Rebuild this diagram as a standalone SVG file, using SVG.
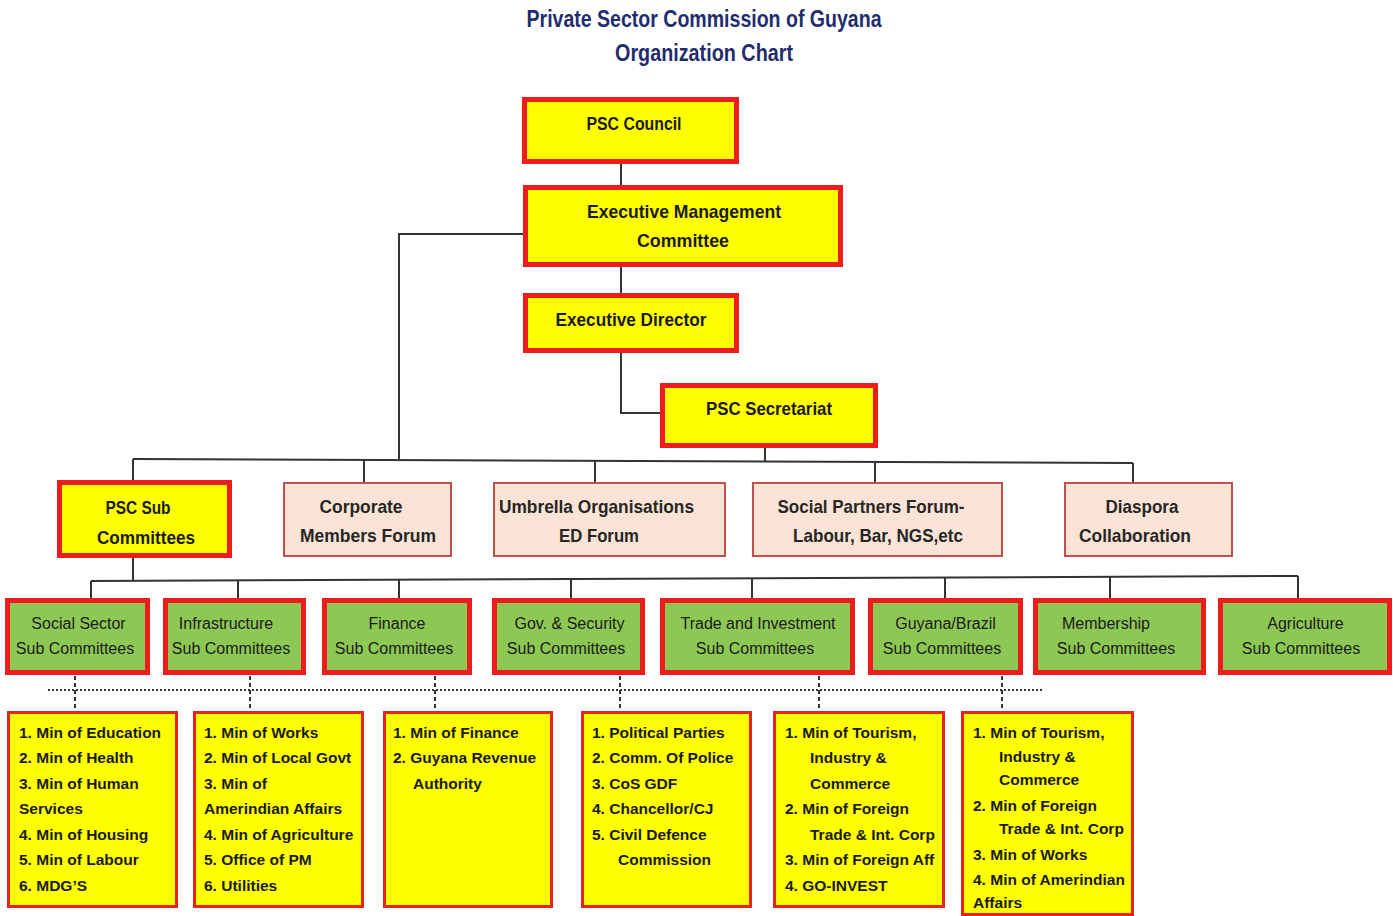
<svg xmlns="http://www.w3.org/2000/svg" width="1393" height="916" viewBox="0 0 1393 916">
<style>
text{font-family:"Liberation Sans",Arial,sans-serif;fill:#1a1a1a}
.title{font-size:23px;font-weight:bold;fill:#1f2d6e;text-anchor:middle}
.top rect{fill:#ffff00;stroke:#ee1c1c;stroke-width:5}
.top text{font-size:19px;font-weight:bold;text-anchor:middle}
.pink rect{fill:#fbe4d5;stroke:#c0504d;stroke-width:2}
.pink text{font-size:19px;font-weight:bold;text-anchor:middle;fill:#262626}
.green rect{fill:#8dc855;stroke:#ee1c1c;stroke-width:5}
.green text{font-size:16px;text-anchor:middle}
.list rect{fill:#ffff00;stroke:#e8231f;stroke-width:3}
.list text{font-size:15.5px;font-weight:bold}
.conn{fill:none;stroke:#333;stroke-width:2}
.dot{fill:none;stroke:#333;stroke-width:2;stroke-dasharray:2 2}
.dash{fill:none;stroke:#333;stroke-width:2;stroke-dasharray:4 3}
</style>
<rect width="1393" height="916" fill="#fff"/>
<g id="title">
<text class="title" x="704" y="27" textLength="355" lengthAdjust="spacingAndGlyphs">Private Sector Commission of Guyana</text>
<text class="title" x="704" y="61" textLength="178" lengthAdjust="spacingAndGlyphs">Organization Chart</text>
</g>
<g id="connectors">
<path class="conn" d="M621 164V186" stroke-width="3"/>
<path class="conn" d="M621 267V294"/>
<path class="conn" d="M621 353V413H662"/>
<path class="conn" d="M524 234H399V459"/>
<path class="conn" d="M765 448V461"/>
<path class="conn" d="M133 459L1133 463"/>
<path class="conn" d="M133 459V481M364 460V483M595 461V483M875 462V483M1133 463V483"/>
<path class="conn" d="M133 558V580"/>
<path class="conn" d="M91 581L1298 576"/>
<path class="conn" d="M91 581V599M238 580V599M399 580V599M571 579V599M752 578V599M945 577V599M1110 577V599M1298 576V599"/>
<path class="dot" d="M48 690H1042"/>
<path class="dash" d="M75 676V711M250 676V711M435 676V711M620 676V711M819 676V711M1002 676V711"/>
</g>
<g id="psc-council" class="top">
<rect x="524.5" y="99.5" width="212" height="62"/>
<text x="634" y="130" textLength="95" lengthAdjust="spacingAndGlyphs">PSC Council</text>
</g>
<g id="exec-mgmt" class="top">
<rect x="525.5" y="187.5" width="315" height="77"/>
<text x="684" y="218" textLength="194" lengthAdjust="spacingAndGlyphs">Executive Management</text>
<text x="683" y="247" textLength="92" lengthAdjust="spacingAndGlyphs">Committee</text>
</g>
<g id="exec-director" class="top">
<rect x="525.5" y="295.5" width="211" height="55"/>
<text x="631" y="326" textLength="151" lengthAdjust="spacingAndGlyphs">Executive Director</text>
</g>
<g id="psc-secretariat" class="top">
<rect x="662.5" y="385.5" width="213" height="60"/>
<text x="769" y="415" textLength="126" lengthAdjust="spacingAndGlyphs">PSC Secretariat</text>
</g>
<g id="psc-sub" class="top">
<rect x="59.5" y="482.5" width="170" height="73"/>
<text x="138" y="514" textLength="65" lengthAdjust="spacingAndGlyphs">PSC Sub</text>
<text x="146" y="544" textLength="98" lengthAdjust="spacingAndGlyphs">Committees</text>
</g>
<g id="corporate" class="pink">
<rect x="284" y="483" width="167" height="73"/>
<text x="361" y="513" textLength="83" lengthAdjust="spacingAndGlyphs">Corporate</text>
<text x="368" y="542" textLength="136" lengthAdjust="spacingAndGlyphs">Members Forum</text>
</g>
<g id="umbrella" class="pink">
<rect x="494" y="483" width="231" height="73"/>
<text x="596.5" y="513" textLength="195" lengthAdjust="spacingAndGlyphs">Umbrella Organisations</text>
<text x="599" y="542" textLength="80" lengthAdjust="spacingAndGlyphs">ED Forum</text>
</g>
<g id="social-partners" class="pink">
<rect x="753" y="483" width="249" height="73"/>
<text x="871" y="513" textLength="187" lengthAdjust="spacingAndGlyphs">Social Partners Forum-</text>
<text x="878" y="542" textLength="170" lengthAdjust="spacingAndGlyphs">Labour, Bar, NGS,etc</text>
</g>
<g id="diaspora" class="pink">
<rect x="1065" y="483" width="167" height="73"/>
<text x="1142" y="513" textLength="73" lengthAdjust="spacingAndGlyphs">Diaspora</text>
<text x="1135" y="542" textLength="112" lengthAdjust="spacingAndGlyphs">Collaboration</text>
</g>
<g id="social-sector" class="green">
<rect x="7.5" y="600.5" width="140" height="72"/>
<text x="78.5" y="629">Social Sector</text>
<text x="75" y="654">Sub Committees</text>
</g>
<g id="infrastructure" class="green">
<rect x="165.5" y="600.5" width="138" height="72"/>
<text x="226" y="629">Infrastructure</text>
<text x="231" y="654">Sub Committees</text>
</g>
<g id="finance" class="green">
<rect x="324.5" y="600.5" width="145" height="72"/>
<text x="397" y="629">Finance</text>
<text x="394" y="654">Sub Committees</text>
</g>
<g id="gov-security" class="green">
<rect x="494.5" y="600.5" width="148" height="72"/>
<text x="569.5" y="629">Gov. &amp; Security</text>
<text x="566" y="654">Sub Committees</text>
</g>
<g id="trade-investment" class="green">
<rect x="662.5" y="600.5" width="190" height="72"/>
<text x="758" y="629">Trade and Investment</text>
<text x="755" y="654">Sub Committees</text>
</g>
<g id="guyana-brazil" class="green">
<rect x="870.5" y="600.5" width="150" height="72"/>
<text x="945.5" y="629">Guyana/Brazil</text>
<text x="942" y="654">Sub Committees</text>
</g>
<g id="membership" class="green">
<rect x="1035.5" y="600.5" width="168" height="72"/>
<text x="1106" y="629">Membership</text>
<text x="1116" y="654">Sub Committees</text>
</g>
<g id="agriculture" class="green">
<rect x="1220.5" y="600.5" width="169" height="72"/>
<text x="1305.5" y="629">Agriculture</text>
<text x="1301" y="654">Sub Committees</text>
</g>
<g id="list-social" class="list">
<rect x="8.5" y="712.5" width="168" height="194"/>
<text x="19" y="738">1. Min of Education</text>
<text x="19" y="763">2. Min of Health</text>
<text x="19" y="789">3. Min of Human</text>
<text x="19" y="814">Services</text>
<text x="19" y="840">4. Min of Housing</text>
<text x="19" y="865">5. Min of Labour</text>
<text x="19" y="891">6. MDG’S</text>
</g>
<g id="list-infrastructure" class="list">
<rect x="194.5" y="712.5" width="168" height="194"/>
<text x="204" y="738">1. Min of Works</text>
<text x="204" y="763">2. Min of Local Govt</text>
<text x="204" y="789">3. Min of</text>
<text x="204" y="814">Amerindian Affairs</text>
<text x="204" y="840">4. Min of Agriculture</text>
<text x="204" y="865">5. Office of PM</text>
<text x="204" y="891">6. Utilities</text>
</g>
<g id="list-finance" class="list">
<rect x="384.5" y="712.5" width="167" height="194"/>
<text x="393" y="738">1. Min of Finance</text>
<text x="393" y="763">2. Guyana Revenue</text>
<text x="413" y="789">Authority</text>
</g>
<g id="list-gov" class="list">
<rect x="582.5" y="712.5" width="168" height="194"/>
<text x="592" y="738">1. Political Parties</text>
<text x="592" y="763">2. Comm. Of Police</text>
<text x="592" y="789">3. CoS GDF</text>
<text x="592" y="814">4. Chancellor/CJ</text>
<text x="592" y="840">5. Civil Defence</text>
<text x="618" y="865">Commission</text>
</g>
<g id="list-trade" class="list">
<rect x="774.5" y="712.5" width="169" height="194"/>
<text x="785" y="738">1. Min of Tourism,</text>
<text x="810" y="763">Industry &amp;</text>
<text x="810" y="789">Commerce</text>
<text x="785" y="814">2. Min of Foreign</text>
<text x="810" y="840">Trade &amp; Int. Corp</text>
<text x="785" y="865">3. Min of Foreign Aff</text>
<text x="785" y="891">4. GO-INVEST</text>
</g>
<g id="list-guyana-brazil" class="list">
<rect x="962.5" y="712.5" width="170" height="202"/>
<text x="973" y="738" font-size="14.5">1. Min of Tourism,</text>
<text x="999" y="762" font-size="14.5">Industry &amp;</text>
<text x="999" y="785" font-size="14.5">Commerce</text>
<text x="973" y="811" font-size="14.5">2. Min of Foreign</text>
<text x="999" y="834" font-size="14.5">Trade &amp; Int. Corp</text>
<text x="973" y="860" font-size="14.5">3. Min of Works</text>
<text x="973" y="885" font-size="13">4. Min of Amerindian</text>
<text x="973" y="908" font-size="13">Affairs</text>
</g>
</svg>
